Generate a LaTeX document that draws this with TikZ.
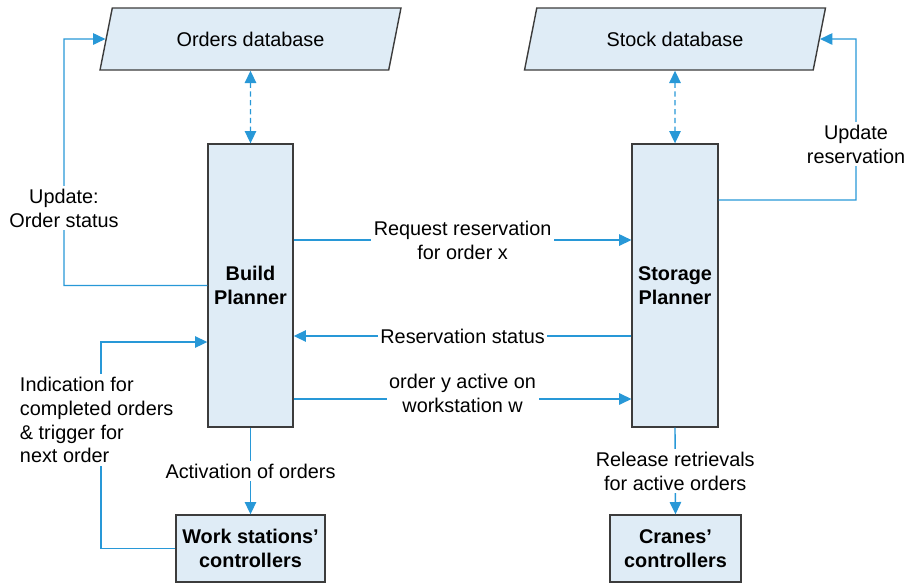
\documentclass[tikz,border=0pt]{standalone}
\usepackage{fontspec}
\setmainfont{Liberation Sans}
\usepackage{tikz}
\usetikzlibrary{arrows.meta, positioning, shapes.geometric}
\definecolor{linkblue}{RGB}{40,152,215}
\definecolor{boxfill}{RGB}{223,236,246}
\definecolor{boxline}{RGB}{60,60,60}

\begin{document}
\begin{tikzpicture}[x=0.02cm,y=-0.02cm,>={Triangle[length=7pt,width=6.5pt]},
    font=\fontsize{11.3}{13.6}\selectfont]
  \tikzstyle{database}=[trapezium, trapezium left angle=65, trapezium right angle=115,
    trapezium stretches body, draw=boxline, fill=boxfill, line width=0.8pt,
    minimum width=6.02cm, minimum height=1.24cm]
  \tikzstyle{planner}=[rectangle, draw=boxline, fill=boxfill, line width=0.8pt,
    minimum width=1.7cm, minimum height=5.66cm, align=center,
    font=\fontsize{11.3}{13.6}\selectfont\bfseries]
  \tikzstyle{ctrl}=[rectangle, draw=boxline, fill=boxfill, line width=0.8pt,
    minimum height=1.34cm, align=center, font=\fontsize{11.3}{13.6}\selectfont\bfseries]
  \tikzstyle{flow}=[draw=linkblue, line width=0.8pt]
  \tikzstyle{lbl}=[fill=white, align=center, inner sep=1.5pt]

  \useasboundingbox (0,0) rectangle (906,583);

  \node[database] (orders_db) at (250.5,39)    {Orders database};
  \node[database] (stock_db)  at (675,39)      {Stock database};
  \node[planner]  (build)     at (250.5,285.5) {Build\\Planner};
  \node[planner]  (storage)   at (675,285.5)   {Storage\\Planner};
  \node[ctrl, minimum width=2.98cm] (ws)     at (250.5,548.5) {Work stations'\\controllers};
  \node[ctrl, minimum width=2.62cm] (cranes) at (675.5,548.5) {Cranes'\\controllers};

  \coordinate (upd_order) at (64,39);
  \coordinate (upd_stock) at (856,39);
  \coordinate (ind_corner) at (101,342);

  % database links
  \draw[flow, dash pattern=on 3pt off 2pt, <->] (orders_db.south) -- (build.north);
  \draw[flow, dash pattern=on 3pt off 2pt, <->] (stock_db.south) -- (storage.north);

  % feedback loops
  \draw[flow, ->] (build.west) -| (upd_order) -- (orders_db.west);
  \node[lbl] (upd_order_lbl) at (64,208) {Update:\\Order status};
  \draw[flow, ->] ([yshift=1.71cm]storage.east) -| (upd_stock) -- (stock_db.east);
  \node[lbl] (upd_stock_lbl) at (856,144) {Update\\reservation};
  \draw[flow, ->] (ws.west) -| (ind_corner) -- (ind_corner -| build.west);
  \node[lbl, align=left, anchor=west] (ind_lbl) at (17,420)
    {Indication for\\completed orders\\\& trigger for\\next order};

  \draw[flow, ->] ([yshift=0.91cm]build.east) -- node[lbl] {Request reservation\\for order x} ([yshift=0.91cm]storage.west);
  \draw[flow, ->] ([yshift=-1.01cm]storage.west) -- node[lbl] {Reservation status} ([yshift=-1.01cm]build.east);
  \draw[flow, ->] ([yshift=-2.27cm]build.east) -- node[lbl, yshift=0.12cm] {order y active on\\workstation w} ([yshift=-2.27cm]storage.west);
  \draw[flow, ->] (build.south) -- node[lbl] {Activation of orders} (ws.north);
  \draw[flow, ->] (storage.south) -- node[lbl] {Release retrievals\\for active orders} (cranes.north);
\end{tikzpicture}
\end{document}
